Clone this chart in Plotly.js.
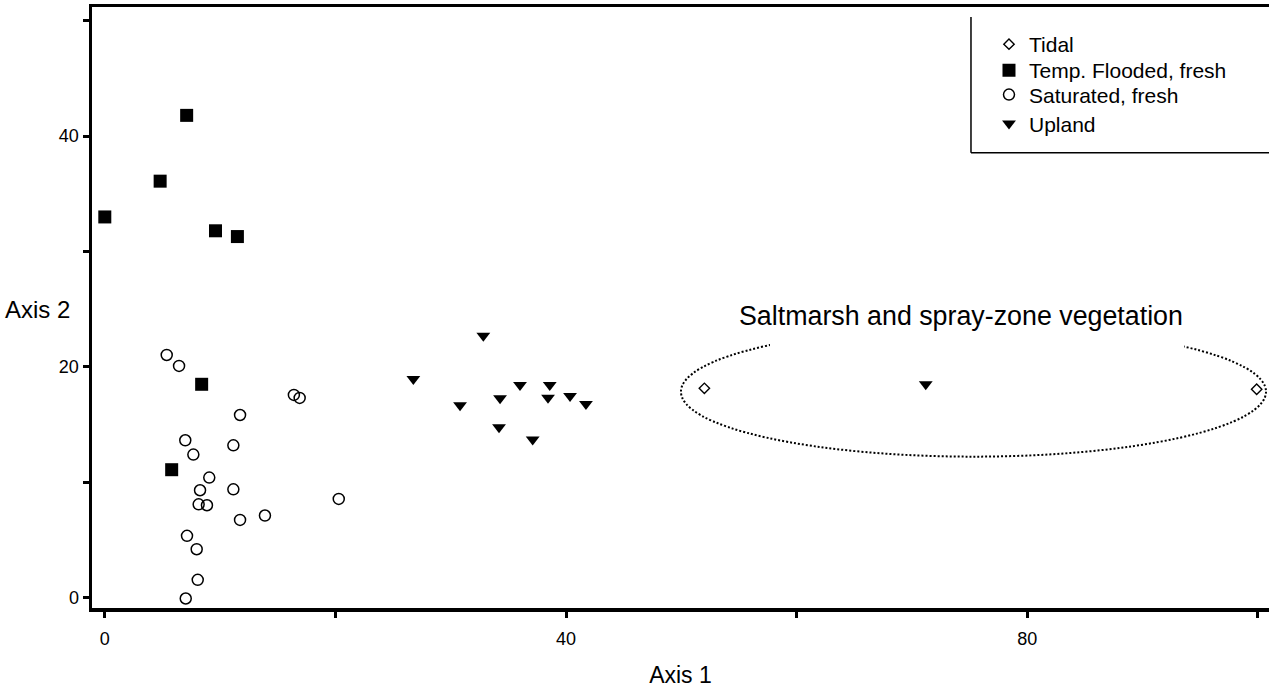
<!DOCTYPE html>
<html>
<head>
<meta charset="utf-8">
<script src="https://cdn.plot.ly/plotly-3.0.1.min.js"></script>
<style>
  html, body { margin: 0; padding: 0; background: #ffffff; }
  #chart { width: 1269px; height: 692px; }
</style>
</head>
<body>
<div id="chart"></div>
<script>
// ---- Data ----
const seriesNames = ['Tidal', 'Temp. Flooded, fresh', 'Saturated, fresh', 'Upland'];

const tidalX = [52.0, 99.9];
const tidalY = [18.15, 18.07];

const floodedX = [0.0, 4.8, 7.1, 9.6, 11.5, 8.4, 5.8];
const floodedY = [33.0, 36.1, 41.8, 31.8, 31.3, 18.5, 11.1];

const saturatedX = [5.37, 6.44, 11.73, 6.98, 7.68, 11.15, 9.06, 8.26, 11.15, 8.14,
                    8.86, 11.73, 13.89, 7.13, 7.97, 8.06, 7.02, 16.4, 16.9, 20.29];
const saturatedY = [21.04, 20.09, 15.84, 13.65, 12.41, 13.21, 10.42, 9.32, 9.40, 8.10,
                    8.02, 6.75, 7.13, 5.37, 4.21, 1.56, -0.06, 17.58, 17.32, 8.57];

const uplandX = [32.83, 26.76, 36.01, 38.59, 34.28, 38.44, 40.35, 41.73, 30.81, 34.19, 37.11, 71.2];
const uplandY = [22.71, 18.96, 18.44, 18.44, 17.28, 17.34, 17.49, 16.80, 16.68, 14.77, 13.71, 18.5];

const xTickVals = [0, 20, 40, 60, 80, 100];
const xTickText = ['0', '', '40', '', '80', ''];
const yTickVals = [0, 10, 20, 30, 40, 50];
const yTickText = ['0', '', '20', '', '40', ''];

const xTitle = 'Axis 1';
const yTitle = 'Axis 2';
const groupLabel = 'Saltmarsh and spray-zone vegetation';

// ellipse around the saltmarsh group (data units) and the gap under the label
const ellipseBox = {x0: 49.97, x1: 100.71, y0: 12.23, y1: 23.49};
const gapBox = {x0: 57.69, x1: 93.6, y0: 21.32, y1: 25.83};
const labelPos = {x: 74.3, y: 24.4};

// ---- Styling ----
const FONT = '"Liberation Sans", Arial, Helvetica, sans-serif';
const legendIds = ['legend', 'legend2', 'legend3', 'legend4'];
const legendY = [0.9376, 0.8941, 0.8537, 0.8055];

const traces = [
  {
    x: tidalX, y: tidalY, name: seriesNames[0], type: 'scatter', mode: 'markers', legend: legendIds[0],
    marker: {symbol: 'diamond-open', size: 8, color: '#000', line: {width: 1.4, color: '#000'}}
  },
  {
    x: floodedX, y: floodedY, name: seriesNames[1], type: 'scatter', mode: 'markers', legend: legendIds[1],
    marker: {symbol: 'square', size: 13, color: '#000', line: {width: 0}}
  },
  {
    x: saturatedX, y: saturatedY, name: seriesNames[2], type: 'scatter', mode: 'markers', legend: legendIds[2],
    marker: {symbol: 'circle-open', size: 11, color: '#000', line: {width: 1.5, color: '#000'}}
  },
  {
    x: uplandX, y: uplandY, name: seriesNames[3], type: 'scatter', mode: 'markers', legend: legendIds[3],
    marker: {symbol: 'triangle-down', size: 12, color: '#000', line: {width: 0}}
  }
];

function legendBox(yPos) {
  return {
    x: 0.7621, xanchor: 'left', y: yPos, yanchor: 'middle',
    bgcolor: 'rgba(0,0,0,0)', borderwidth: 0,
    font: {family: FONT, size: 21, color: '#000'}
  };
}

const layout = {
  width: 1269, height: 692,
  margin: {l: 92, r: 0, t: 7, b: 83.5, pad: 0},
  paper_bgcolor: '#fff', plot_bgcolor: '#fff',
  font: {family: FONT, color: '#000', size: 18},
  showlegend: true,
  legend: legendBox(legendY[0]),
  legend2: legendBox(legendY[1]),
  legend3: legendBox(legendY[2]),
  legend4: legendBox(legendY[3]),
  xaxis: {
    range: [-1.11, 100.97], showgrid: false, zeroline: false,
    showline: true, linecolor: '#000', linewidth: 3.5, mirror: true,
    ticks: 'outside', ticklen: 6, tickwidth: 3, tickcolor: '#000',
    tickvals: xTickVals, ticktext: xTickText, ticklabelstandoff: 6,
    tickfont: {family: FONT, size: 18, color: '#000'},
    title: {text: xTitle, font: {family: FONT, size: 23, color: '#000'}, standoff: 20}
  },
  yaxis: {
    range: [-0.883, 51.19], showgrid: false, zeroline: false,
    showline: true, linecolor: '#000', linewidth: 3.5, mirror: false,
    ticks: 'outside', ticklen: 6, tickwidth: 3, tickcolor: '#000',
    tickvals: yTickVals, ticktext: yTickText,
    tickfont: {family: FONT, size: 18, color: '#000'}
  },
  shapes: [
    {type: 'circle', xref: 'x', yref: 'y', x0: ellipseBox.x0, x1: ellipseBox.x1, y0: ellipseBox.y0, y1: ellipseBox.y1,
     line: {color: '#000', width: 2, dash: '2px,2px'}, fillcolor: 'rgba(0,0,0,0)', layer: 'above'},
    {type: 'rect', xref: 'x', yref: 'y', x0: gapBox.x0, x1: gapBox.x1, y0: gapBox.y0, y1: gapBox.y1,
     line: {width: 0}, fillcolor: '#fff', layer: 'above'},
    // legend frame (left side and bottom)
    {type: 'line', xref: 'paper', yref: 'paper', x0: 0.7468, x1: 0.7468, y0: 0.7573, y1: 0.9834,
     line: {color: '#000', width: 1.5}},
    {type: 'line', xref: 'paper', yref: 'paper', x0: 0.7468, x1: 1.0, y0: 0.7573, y1: 0.7573,
     line: {color: '#000', width: 1.5}}
  ],
  annotations: [
    {text: groupLabel, xref: 'x', yref: 'y', x: labelPos.x, y: labelPos.y,
     xanchor: 'center', yanchor: 'middle', showarrow: false,
     font: {family: FONT, size: 26.8, color: '#000'}},
    {text: yTitle, xref: 'paper', yref: 'paper', x: -0.017, y: 0.4963,
     xanchor: 'right', yanchor: 'middle', showarrow: false,
     font: {family: FONT, size: 24, color: '#000'}}
  ]
};

Plotly.newPlot('chart', traces, layout, {displayModeBar: false, staticPlot: true});
</script>
</body>
</html>
